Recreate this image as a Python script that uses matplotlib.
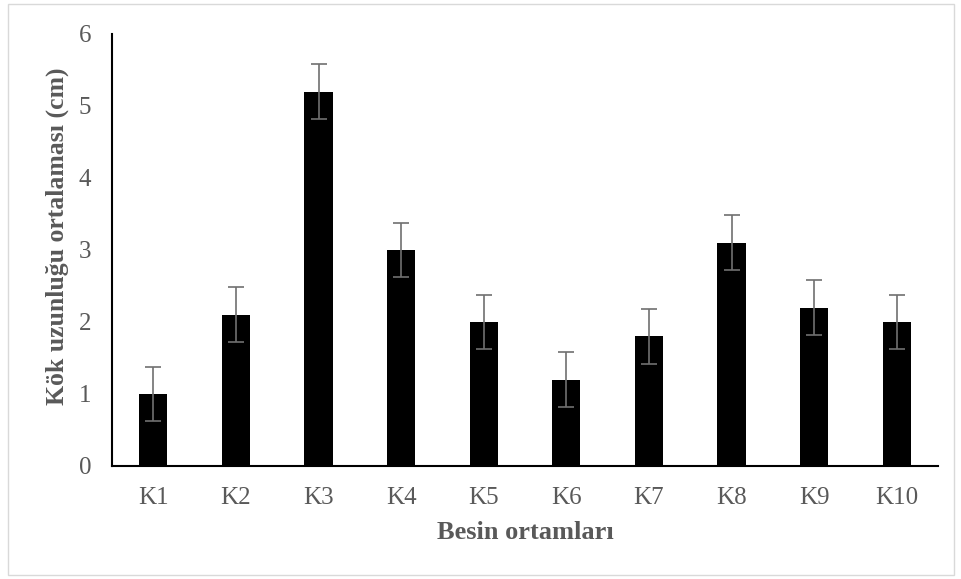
import matplotlib.pyplot as plt
from matplotlib.patches import Rectangle

plt.rcParams['font.family'] = ['Liberation Serif', 'DejaVu Serif']

# veriler
kategoriler = ['K1', 'K2', 'K3', 'K4', 'K5', 'K6', 'K7', 'K8', 'K9', 'K10']
ortalamalar = [1.0, 2.1, 5.2, 3.0, 2.0, 1.2, 1.8, 3.1, 2.2, 2.0]
hatalar = [0.38, 0.38, 0.38, 0.38, 0.38, 0.38, 0.38, 0.38, 0.38, 0.38]

gri = '#595959'

fig = plt.figure(figsize=(9.61, 5.79), dpi=100)
ax = fig.add_axes([112 / 961, 1 - 466 / 579, 826 / 961, 432 / 579])

ax.bar(kategoriler, ortalamalar, width=0.34, color='black',
       yerr=hatalar, error_kw=dict(ecolor='#707070', elinewidth=1.2, capsize=6, capthick=1.2))

ax.set_ylim(0, 6)
ax.set_xlim(-0.5, len(kategoriler) - 0.5)
ax.set_yticks(range(0, 7))

for s in ['top', 'right']:
    ax.spines[s].set_visible(False)
ax.spines['left'].set_linewidth(1.5)
ax.spines['bottom'].set_linewidth(1.5)
ax.tick_params(length=0, labelsize=18, colors=gri)
ax.tick_params(axis='x', pad=15)
ax.tick_params(axis='y', pad=15)

ax.set_xlabel('Besin ortamları', fontsize=19, fontweight='bold', color=gri, va='center')
ax.set_ylabel('Kök uzunluğu ortalaması (cm)', fontsize=18.5, fontweight='bold', color=gri, va='center')
ax.xaxis.set_label_coords(0.5, -0.155)
ax.yaxis.set_label_coords(-0.0666, 0.532)

# dış çerçeve
fig.patches.append(Rectangle((8 / 961, 4 / 579), 946 / 961, 571 / 579, transform=fig.transFigure,
                             fill=False, edgecolor='#d9d9d9', linewidth=1))

fig.savefig('out.png', dpi=100)
